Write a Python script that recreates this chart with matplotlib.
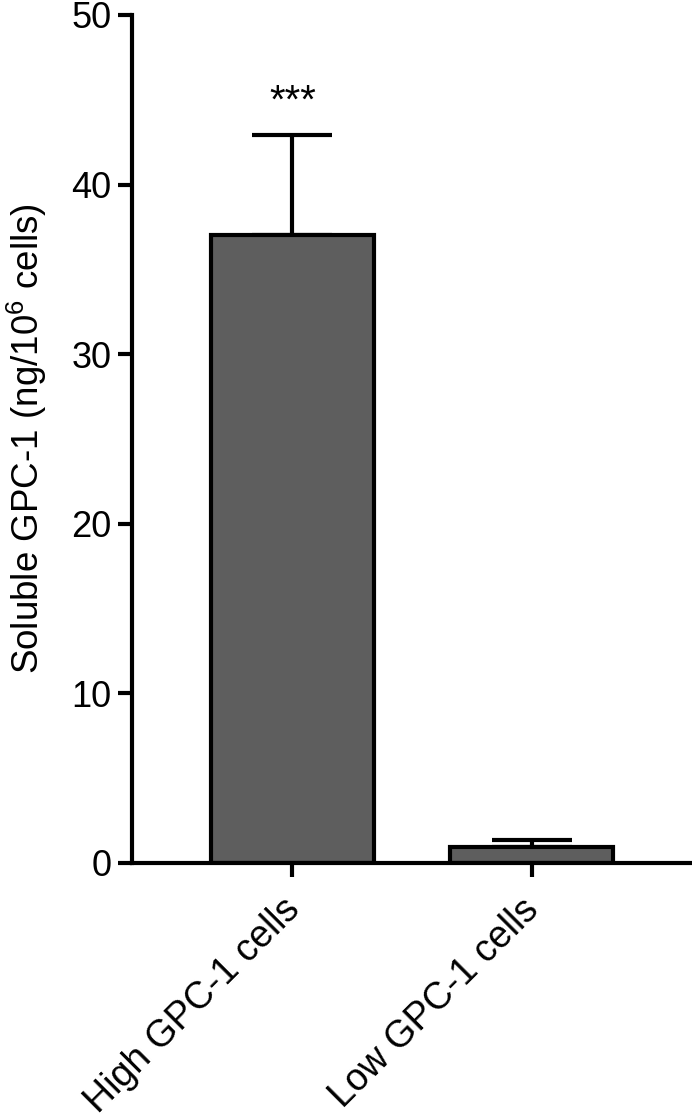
import matplotlib.pyplot as plt
import matplotlib.transforms as mtransforms
import numpy as np

plt.rcParams['font.family'] = ['Liberation Sans', 'DejaVu Sans']
plt.rcParams['mathtext.fontset'] = 'custom'
plt.rcParams['mathtext.rm'] = 'Liberation Sans'

groups = ['High GPC-1 cells', 'Low GPC-1 cells']
means = [37.0, 0.95]
errs = [5.95, 0.42]
yticks = [0, 10, 20, 30, 40, 50]

fig = plt.figure(figsize=(6.92, 11.19), dpi=100)
ax = fig.add_axes([132 / 692, 1 - 863 / 1119, 1 - 132 / 692, (863 - 15) / 1119])

x = np.arange(len(groups))
ax.bar(x, means, width=0.68, color='#5e5e5e', edgecolor='black', linewidth=3, zorder=2)
ax.errorbar(x, means, yerr=[np.zeros(len(errs)), errs], fmt='none', ecolor='black',
            elinewidth=3, capsize=29, capthick=3, zorder=1)

ax.text(0, 44.9, '***', ha='center', va='center', fontsize=29)

ax.set_xlim(-0.67, 1.67)
ax.set_ylim(0, 50)
ax.set_yticks(yticks)
ax.set_xticks(x)
ax.set_xticklabels(groups, rotation=45, ha='right', rotation_mode='anchor', fontsize=27)
ax.tick_params(axis='y', labelsize=26, width=3, length=10, pad=5)
ax.tick_params(axis='x', width=3, length=10, pad=9)
ax.set_ylabel(r'Soluble GPC-1 (ng/10$\mathregular{^6}$ cells)', fontsize=26.5, labelpad=16)

# shift the slanted labels a little to the left, as in the original
shift = mtransforms.ScaledTranslation(-11 / 100, -2 / 100, fig.dpi_scale_trans)
for lbl in ax.get_xticklabels():
    lbl.set_transform(lbl.get_transform() + shift)

for s in ['top', 'right']:
    ax.spines[s].set_visible(False)
for s in ['left', 'bottom']:
    ax.spines[s].set_linewidth(3)

fig.savefig('out.png', dpi=100)
